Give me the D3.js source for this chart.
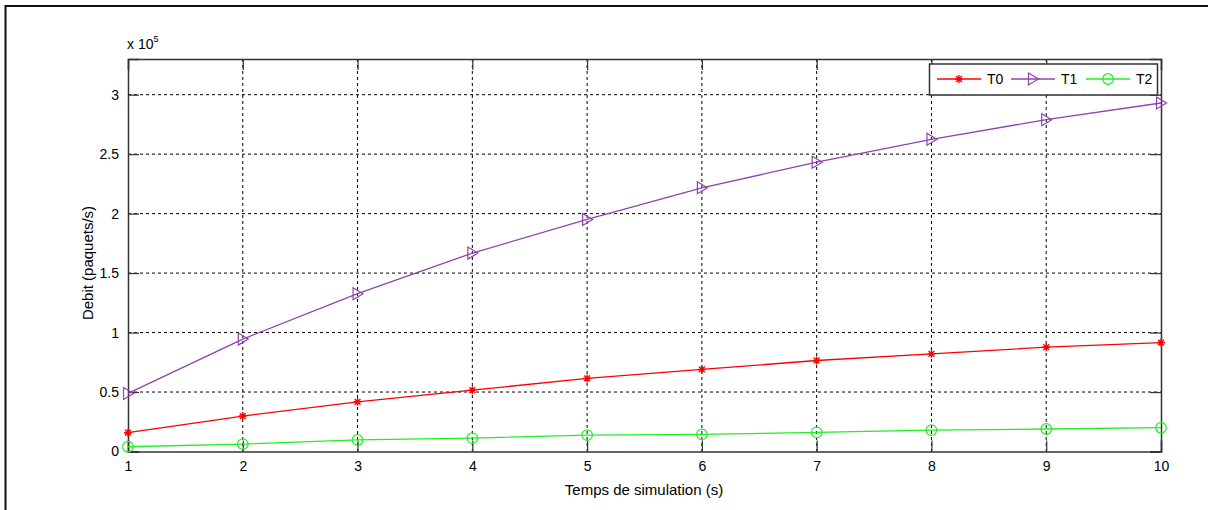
<!DOCTYPE html>
<html><head><meta charset="utf-8">
<script src="https://cdn.jsdelivr.net/npm/d3@7"></script>
<style>body{margin:0;background:#fff;} svg{display:block;font-family:"Liberation Sans",Arial,sans-serif;}</style>
</head><body>
<svg id="c" width="1208" height="510"></svg>
<script>
const times = [1,2,3,4,5,6,7,8,9,10];
const T0 = [0.158,0.298,0.418,0.516,0.614,0.690,0.765,0.821,0.877,0.916];
const T1 = [0.488,0.945,1.327,1.668,1.951,2.217,2.432,2.625,2.790,2.930];
const T2 = [0.040,0.062,0.097,0.113,0.138,0.144,0.161,0.180,0.189,0.200];
const seriesNames = ["T0","T1","T2"];
const seriesColors = ["#ff0000","#8e44ad","#22ee22"];
const yTicks = [0,0.5,1,1.5,2,2.5,3];
const xTicks = [1,2,3,4,5,6,7,8,9,10];

const svg = d3.select("#c");
svg.append("rect").attr("x",5.5).attr("y",6).attr("width",1240).attr("height",540)
  .attr("fill","none").attr("stroke","#111").attr("stroke-width",2);

const L=128, R=1161, T=59, B=451.5;
const x = d3.scaleLinear().domain([1,10]).range([L,R]);
const y = d3.scaleLinear().domain([0,3.3]).range([B,T]);

const g = svg.append("g");
g.selectAll(".vg").data(xTicks.slice(1,-1)).join("line")
  .attr("x1",d=>x(d)).attr("x2",d=>x(d)).attr("y1",T).attr("y2",B)
  .attr("stroke","#000").attr("stroke-width",1).attr("stroke-dasharray","3,3");
g.selectAll(".hg").data(yTicks.slice(1)).join("line")
  .attr("x1",L).attr("x2",R).attr("y1",d=>y(d)).attr("y2",d=>y(d))
  .attr("stroke","#000").attr("stroke-width",1).attr("stroke-dasharray","3,3");

const xAxis = d3.axisBottom(x).tickValues(xTicks).tickSize(-11).tickPadding(15).tickFormat(d3.format("d"));
const xa = g.append("g").attr("transform",`translate(0,${B})`).call(xAxis);
const xTop = d3.axisTop(x).tickValues(xTicks).tickSize(-11).tickFormat("");
const xt = g.append("g").attr("transform",`translate(0,${T})`).call(xTop);
const yAxis = d3.axisLeft(y).tickValues(yTicks).tickSize(-11).tickPadding(5).tickFormat(d=>String(d));
const ya = g.append("g").attr("transform",`translate(${L},0)`).call(yAxis);
const yRight = d3.axisRight(y).tickValues(yTicks).tickSize(-11).tickFormat("");
const yr = g.append("g").attr("transform",`translate(${R},0)`).call(yRight);
[xa,xt,ya,yr].forEach(a=>{
  a.select(".domain").attr("stroke","#333").attr("stroke-width",1.5);
  a.selectAll(".tick line").attr("stroke","#333").attr("stroke-width",1.2);
  a.selectAll("text").attr("font-family","Liberation Sans, Arial, sans-serif").attr("font-size",14).attr("fill","#000");
});
xa.selectAll("text").attr("dy","0.32em");
ya.selectAll("text").attr("dy","0.32em").attr("dx","-4");

const ex = svg.append("text").attr("x",127).attr("y",49).attr("font-size",14).attr("fill","#000");
ex.append("tspan").text("x 10");
ex.append("tspan").attr("dy",-7).attr("font-size",9).text("5");

svg.append("text").attr("x",644).attr("y",495).attr("text-anchor","middle").attr("font-size",15).text("Temps de simulation (s)");
svg.append("text").attr("transform","translate(93,263) rotate(-90)").attr("text-anchor","middle").attr("font-size",15).text("Debit (paquets/s)");

function drawMarker(sel, kind, color){
  if(kind===0){
    sel.append("path").attr("d","M-4,0H4M0,-4V4M-2.9,-2.9L2.9,2.9M-2.9,2.9L2.9,-2.9")
      .attr("stroke",color).attr("stroke-width",1.4).attr("fill","none");
  } else if(kind===1){
    sel.append("path").attr("d","M-4.5,-6L5.5,0L-4.5,6Z").attr("stroke",color).attr("stroke-width",1.2).attr("fill","none");
  } else {
    sel.append("circle").attr("r",5.3).attr("stroke",color).attr("stroke-width",1.2).attr("fill","none");
  }
}
const allSeries = [T0,T1,T2];
const line = d3.line().x((d,i)=>x(times[i])).y(d=>y(d));
allSeries.forEach((s,k)=>{
  g.append("path").datum(s).attr("d",line).attr("fill","none").attr("stroke",seriesColors[k]).attr("stroke-width",1.3);
  s.forEach((v,i)=>{
    drawMarker(g.append("g").attr("transform",`translate(${x(times[i])},${y(v)})`),k,seriesColors[k]);
  });
});

const lg = svg.append("g");
lg.append("rect").attr("x",929.5).attr("y",64).attr("width",228).attr("height",31).attr("fill","#fff").attr("stroke","#333").attr("stroke-width",1.5);
const legX = [937,1011,1086];
seriesNames.forEach((n,k)=>{
  const gx = legX[k];
  lg.append("line").attr("x1",gx).attr("x2",gx+44).attr("y1",79).attr("y2",79).attr("stroke",seriesColors[k]).attr("stroke-width",1.3);
  drawMarker(lg.append("g").attr("transform",`translate(${gx+22},79)`),k,seriesColors[k]);
  lg.append("text").attr("x",gx+50).attr("y",79).attr("dy","0.35em").attr("font-size",14).text(n);
});
</script>
</body></html>
